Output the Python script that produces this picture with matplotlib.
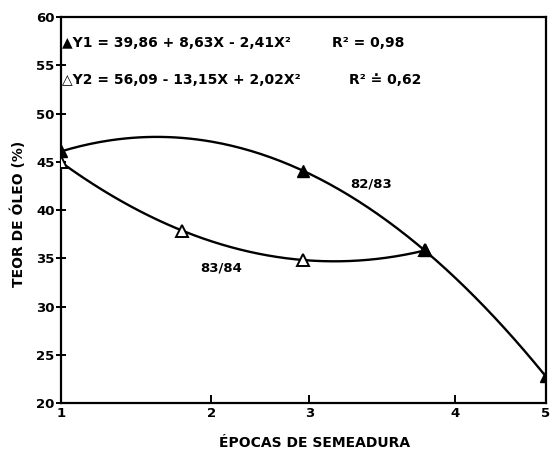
import numpy as np
import matplotlib
matplotlib.use("Agg")
import matplotlib.pyplot as plt

plt.rcParams['font.family'] = ['DejaVu Sans']
plt.rcParams['font.weight'] = 'bold'

# Sowing periods and oil content (%)
x_8283 = [1, 3, 4, 5]
y_8283 = [46.08, 44.06, 35.82, 22.76]
x_8384 = [1, 2, 3, 4]
y_8384 = [44.96, 37.87, 34.82, 35.81]

# Quadratic fits: Y = a + bX + cX^2
coef_y1 = [39.86, 8.63, -2.41]
coef_y2 = [56.09, -13.15, 2.02]
range_y1 = [1, 5]
range_y2 = [1, 4]

xtick_pos = [1, 2.24, 3.05, 4.25, 5]
xtick_labels = ['1', '2', '3', '4', '5']
yticks = [20, 25, 30, 35, 40, 45, 50, 55, 60]

fig = plt.figure(figsize=(5.53, 4.51), dpi=100)
ax = fig.add_axes([0.1103, 0.1064, 0.8767, 0.8556])


def quad(c, x):
    return c[0] + c[1] * x + c[2] * x ** 2


xs1 = np.linspace(range_y1[0], range_y1[1], 200)
xs2 = np.linspace(range_y2[0], range_y2[1], 200)
ax.plot(xs1, quad(coef_y1, xs1), color='black', lw=1.7, zorder=2)
ax.plot(xs2, quad(coef_y2, xs2), color='black', lw=1.7, zorder=2)

ax.plot(x_8384, y_8384, linestyle='none', marker='^', ms=8,
        mfc='white', mec='black', mew=1.4, zorder=3)
ax.plot(x_8283, y_8283, linestyle='none', marker='^', ms=8,
        mfc='black', mec='black', mew=1.0, zorder=4)

ax.set_xlim(1, 5)
ax.set_ylim(20, 60)
ax.set_xticks(xtick_pos)
ax.set_xticklabels(xtick_labels)
ax.set_yticks(yticks)

for s in ax.spines.values():
    s.set_linewidth(1.6)

ax.tick_params(axis='x', direction='in', length=6, width=1.4, pad=3,
               labelsize=9.5)
ax.tick_params(axis='y', direction='inout', length=7, width=1.4, pad=1,
               labelsize=9.5)

ax.set_ylabel('TEOR DE ÓLEO (%)', fontsize=10, fontweight='bold')
ax.set_xlabel('ÉPOCAS DE SEMEADURA', fontsize=10, fontweight='bold')
ax.yaxis.set_label_coords(-0.072, 0.49)
ax.xaxis.set_label_coords(0.524, -0.085)

tfs = 10
ax.text(1.005, 57.3, '▲Y1 = 39,86 + 8,63X - 2,41X²', fontsize=tfs,
        fontweight='bold', va='center', ha='left')
ax.text(3.24, 57.3, 'R² = 0,98', fontsize=tfs, fontweight='bold',
        va='center', ha='left')
ax.text(1.005, 53.5, '△Y2 = 56,09 - 13,15X + 2,02X²', fontsize=tfs,
        fontweight='bold', va='center', ha='left')
ax.text(3.38, 53.5, 'R² ≐ 0,62', fontsize=tfs, fontweight='bold',
        va='center', ha='left')

ax.text(3.56, 42.7, '82/83', fontsize=9.5, fontweight='bold', va='center',
        ha='center')
ax.text(2.32, 34.0, '83/84', fontsize=9.5, fontweight='bold', va='center',
        ha='center')

fig.savefig('out.png', dpi=100)
